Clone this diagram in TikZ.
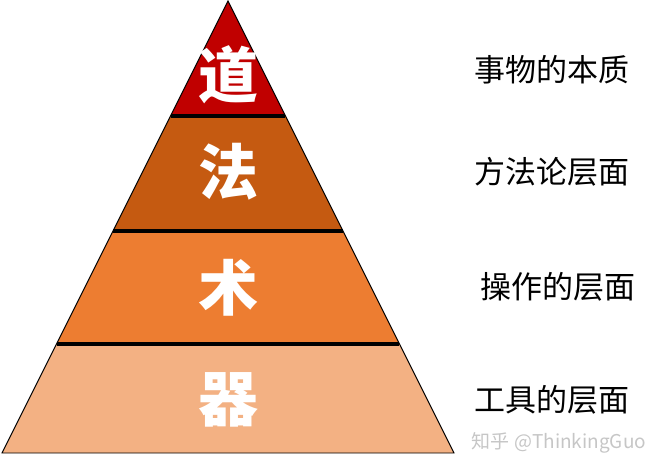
\documentclass[tikz,border=0pt]{standalone}
\usepackage{fontspec}
\setmainfont{Noto Sans CJK SC}
\definecolor{daored}{RGB}{192,0,0}
\definecolor{fabrown}{RGB}{197,90,17}
\definecolor{shuorange}{RGB}{237,125,49}
\definecolor{qipeach}{RGB}{243,177,131}
\usetikzlibrary{calc}

\begin{document}
\begin{tikzpicture}[x=1pt,y=1pt,
    level/.style={font=\fontsize{60}{60}\selectfont\bfseries, text=white},
    meaning/.style={font=\fontsize{31}{31}\selectfont, anchor=center}]
      \useasboundingbox (0,0) rectangle (667,475);
      % Pyramid corners
      \coordinate (apex) at (228,474);
      \coordinate (bl) at (2,22);
      \coordinate (br) at (454,22);
      % Band edges
      \coordinate (l1) at ($(apex)!0.2544!(bl)$);
      \coordinate (r1) at ($(apex)!0.2544!(br)$);
      \coordinate (l2) at ($(apex)!0.5088!(bl)$);
      \coordinate (r2) at ($(apex)!0.5088!(br)$);
      \coordinate (l3) at ($(apex)!0.7588!(bl)$);
      \coordinate (r3) at ($(apex)!0.7588!(br)$);
      % Bands, top to bottom
      \fill[daored] (apex) -- (r1) -- (l1) -- cycle;
      \fill[fabrown] (l1) -- (r1) -- (r2) -- (l2) -- cycle;
      \fill[shuorange] (l2) -- (r2) -- (r3) -- (l3) -- cycle;
      \fill[qipeach] (l3) -- (r3) -- (br) -- (bl) -- cycle;
      % Separators and outline
      \draw[line width=3.5pt] (l1) -- (r1) (l2) -- (r2) (l3) -- (r3);
      \draw[line width=0.9pt, line join=miter] (apex) -- (br) -- (bl) -- cycle;
      % Level characters
      \node[level] (dao) at (228,400) {道};
      \node[level] (fa) at (228,303) {法};
      \node[level] (shu) at (228,187) {术};
      \node[level] (qi) at (228,75) {器};
      % Right-hand labels
      \node[meaning] (daotext) at (552,405) {事物的本质};
      \node[meaning] (fatext) at (552,303) {方法论层面};
      \node[meaning] (shutext) at (558,188) {操作的层面};
      \node[meaning] (qitext) at (552,75) {工具的层面};
      % Watermark
      \node[font=\fontsize{19}{19}\selectfont, text=gray!45] (mark) at (559,32) {知乎 @ThinkingGuo};
    \end{tikzpicture}
\end{document}
